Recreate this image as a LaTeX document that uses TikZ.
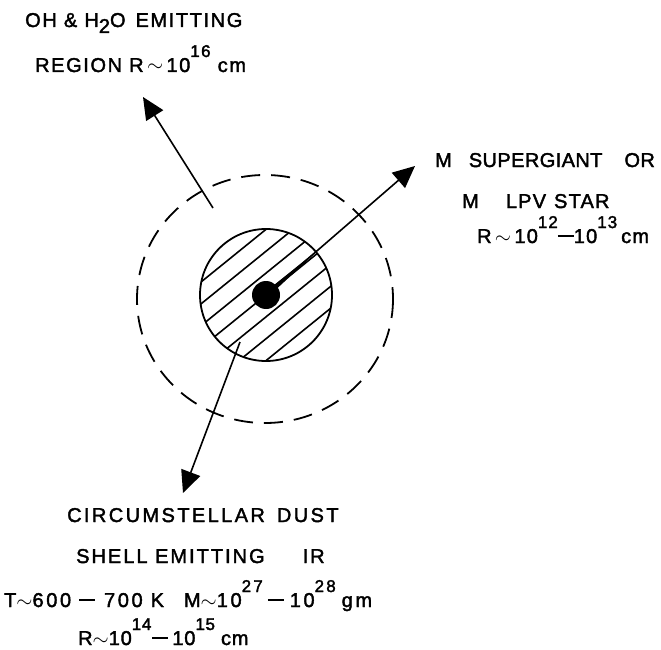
\documentclass[tikz,border=0pt]{standalone}
\usepackage{fontspec}
\setmainfont{Liberation Sans}[FakeBold=2]
\usetikzlibrary{arrows.meta,calc}
\newcommand\pow[1]{\raisebox{15pt}{\fontsize{17}{17}\selectfont #1}}
\newcommand\subdig[1]{\raisebox{-6pt}{#1}}
\newcommand\minusbar{\raisebox{5.8pt}{\rule{16pt}{2pt}}}
\begin{document}
\begin{tikzpicture}[x=1pt, y=-1pt,
    lbl/.style={anchor=base west, inner sep=0pt,
        font=\fontsize{20}{24}\selectfont\addfontfeatures{LetterSpace=#1}},
    lbl/.default=8,
    arr/.style={line width=1.6pt, -{Triangle[length=22pt,width=20pt]}},
    hatch/.style={line width=1.6pt}]
        \useasboundingbox (0,0) rectangle (661,650);
        % Outer dashed OH / H2O region
        \draw[line width=1.8pt, dash pattern=on 19pt off 11pt] (265,299) ellipse (128 and 124);
        % Dust shell with hatching
        \node[circle, draw, line width=1.8pt, minimum size=132pt, inner sep=0pt] (shell) at (266,295) {};
        \begin{scope}
            \clip (shell.center) circle (66);
            \begin{scope}[shift={(shell.center)}, rotate=39]
                \foreach \k in {-4,...,4}
                    \draw[hatch] (-90,\k*17) -- (90,\k*17);
            \end{scope}
        \end{scope}
        % Central star
        \node[circle, fill=black, minimum size=28pt, inner sep=0pt] (star) at (266,295) {};

        % Arrow ends
        \coordinate (ohstart) at (213,208);
        \coordinate (ohtip) at (143,97);
        \coordinate (mtip) at (415,166);
        \coordinate (duststart) at (240,342);
        \coordinate (dusttip) at (183,493);

        % Arrows
        \draw[arr] (ohstart) -- (ohtip);
        \draw[arr] (star.center) -- (mtip);
        \fill ($(star.center)!2.8pt!90:(mtip)$) -- ($(star.center)!0.37!(mtip)$) -- ($(star.center)!2.8pt!-90:(mtip)$) -- cycle;
        \draw[arr] (duststart) -- (dusttip);

        % OH region label
        \node[lbl] (oh1) at (25,27) {OH \& H\subdig{2}O\hspace{10pt}EMITTING};
        \node[lbl] (oh2) at (35,72) {REGION R\,$\sim$\,10\pow{16} cm};

        % Star label
        \node[lbl=2] (ms1) at (435,167) {M\hspace{17pt}SUPERGIANT\hspace{22pt}OR};
        \node[lbl=6] (ms2) at (462,208) {M\hspace{27pt}LPV\hspace{8pt}STAR};
        \node[lbl=6] (ms3) at (477,243) {R\,$\sim$\,10\pow{12}\minusbar10\pow{13}\hspace{4pt}cm};

        % Dust shell label
        \node[lbl=12] (cd1) at (67,522) {CIRCUMSTELLAR\hspace{12pt}DUST};
        \node[lbl=10] (cd2) at (76,563) {SHELL EMITTING\hspace{38pt}IR};
        \node[lbl=13] (cd3) at (4,607) {T$\sim$600\hspace{8pt}\minusbar\hspace{9pt}700\hspace{8pt}K\hspace{20pt}M$\sim$10\pow{27}\hspace{5pt}\minusbar\hspace{6pt}10\pow{28}\hspace{6pt}gm};
        \node[lbl=4] (cd4) at (78,645) {R$\sim$10\pow{14}\hspace{1pt}\minusbar\hspace{4pt}10\pow{15}\hspace{6pt}cm};
    \end{tikzpicture}
\end{document}
